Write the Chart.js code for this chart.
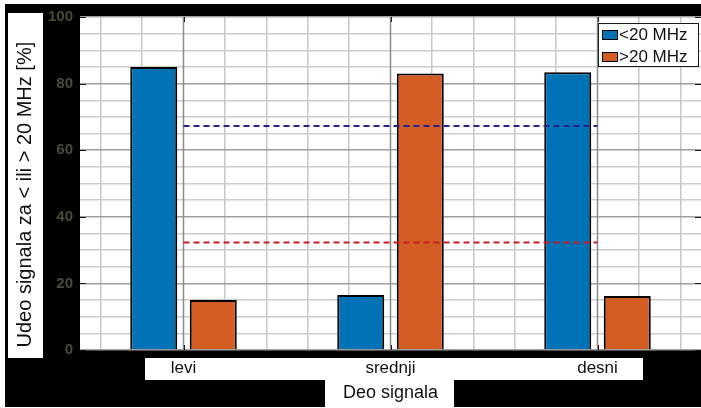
<!DOCTYPE html>
<html>
<head>
<meta charset="utf-8">
<script src="https://cdn.jsdelivr.net/npm/chart.js@4.4.0/dist/chart.umd.min.js"></script>
<style>
  html, body { margin: 0; padding: 0; background: #fff; overflow: hidden; }
  #wrap { width: 701px; height: 408px; }
</style>
</head>
<body>
<div id="wrap"><canvas id="chart" width="701" height="408"></canvas></div>
<script>
// data
const categories = ["levi", "srednji", "desni"];
const seriesNames = ["<20 MHz", ">20 MHz"];
const below20 = [85.0, 16.5, 83.4];
const above20 = [15.0, 83.0, 16.2];
const avgBelow20 = [67.3, 67.3, 67.3];
const avgAbove20 = [32.3, 32.3, 32.3];
const yTicks = [0, 20, 40, 60, 80, 100];

const FONT = "'Liberation Sans', Arial, sans-serif";
const BLUE = "#0072b5";
const ORANGE = "#d45d23";

// black backdrop with white label boxes, like the pasted figure
const backdrop = {
  id: "backdrop",
  beforeDraw(chart) {
    const ctx = chart.ctx;
    const a = chart.chartArea;
    ctx.save();
    ctx.fillStyle = "#fff";
    ctx.fillRect(0, 0, chart.width, chart.height);
    ctx.fillStyle = "#000";
    ctx.fillRect(5, 4, chart.width - 5, chart.height - 5);
    ctx.fillStyle = "#fff";
    ctx.fillRect(8, 13, 35, 345);
    ctx.fillRect(145, 358, 498, 22);
    ctx.fillRect(325, 380, 129, 28);
    ctx.fillRect(a.left, a.top, a.right - a.left, a.bottom - a.top);
    ctx.restore();
  },
  // darker grid lines at the category positions
  beforeDatasetsDraw(chart) {
    const ctx = chart.ctx;
    const a = chart.chartArea;
    const x = chart.scales.x;
    ctx.save();
    ctx.setLineDash([]);
    ctx.strokeStyle = "#8a8a8a";
    ctx.lineWidth = 1.5;
    ctx.beginPath();
    categories.forEach((c, i) => {
      const px = x.getPixelForValue(i);
      ctx.moveTo(px, a.top);
      ctx.lineTo(px, a.bottom);
    });
    ctx.stroke();
    ctx.restore();
  },
};

// inward tick marks and the boxed legend
const overlay = {
  id: "overlay",
  afterDraw(chart) {
    const ctx = chart.ctx;
    const a = chart.chartArea;
    const x = chart.scales.x;
    const y = chart.scales.y;
    ctx.save();
    ctx.setLineDash([]);
    ctx.strokeStyle = "#1a1a1a";
    ctx.lineWidth = 1;
    ctx.beginPath();
    categories.forEach((c, i) => {
      const px = Math.round(x.getPixelForValue(i)) + 0.5;
      ctx.moveTo(px, a.bottom);
      ctx.lineTo(px, a.bottom - 5);
      ctx.moveTo(px, a.top);
      ctx.lineTo(px, a.top + 5);
    });
    yTicks.forEach((v) => {
      const py = Math.round(y.getPixelForValue(v)) + 0.5;
      ctx.moveTo(a.left, py);
      ctx.lineTo(a.left + 6, py);
      ctx.moveTo(a.right, py);
      ctx.lineTo(a.right - 6, py);
    });
    ctx.stroke();

    // legend
    const bx = a.right - 103, by = a.top + 6, bw = 100, bh = 43;
    ctx.fillStyle = "#fff";
    ctx.fillRect(bx, by, bw, bh);
    ctx.strokeStyle = "#1a1a1a";
    ctx.strokeRect(bx + 0.5, by + 0.5, bw, bh);
    ctx.font = "17px " + FONT;
    ctx.textBaseline = "middle";
    chart.data.datasets.slice(0, 2).forEach((ds, i) => {
      const cy = by + 11 + i * 22;
      ctx.fillStyle = ds.backgroundColor;
      ctx.fillRect(bx + 4, cy - 4, 15, 9);
      ctx.strokeStyle = "#000";
      ctx.strokeRect(bx + 4.5, cy - 3.5, 15, 9);
      ctx.fillStyle = "#111";
      ctx.fillText(ds.label, bx + 21, cy + 1);
    });
    ctx.restore();
  },
};

const ctx = document.getElementById("chart").getContext("2d");
new Chart(ctx, {
  data: {
    labels: categories,
    datasets: [
      {
        type: "bar",
        label: seriesNames[0],
        data: below20,
        backgroundColor: BLUE,
        borderColor: "#000",
        borderWidth: 2,
        categoryPercentage: 0.575,
        barPercentage: 0.79,
        order: 2,
      },
      {
        type: "bar",
        label: seriesNames[1],
        data: above20,
        backgroundColor: ORANGE,
        borderColor: "#000",
        borderWidth: 2,
        categoryPercentage: 0.575,
        barPercentage: 0.79,
        order: 2,
      },
      {
        type: "line",
        label: "avg <20",
        data: avgBelow20,
        borderColor: "#23238f",
        borderWidth: 2,
        borderDash: [6, 4],
        pointRadius: 0,
        fill: false,
        order: 0,
      },
      {
        type: "line",
        label: "avg >20",
        data: avgAbove20,
        borderColor: "#c41d26",
        borderWidth: 2,
        borderDash: [6, 4],
        pointRadius: 0,
        fill: false,
        order: 0,
      },
    ],
  },
  options: {
    responsive: false,
    animation: false,
    devicePixelRatio: 1,
    layout: { padding: { left: 5, top: 17, right: 0, bottom: 0 } },
    plugins: { legend: { display: false }, tooltip: { enabled: false } },
    scales: {
      x: {
        type: "category",
        offset: true,
        border: { display: false },
        grid: { display: true, drawOnChartArea: false, drawTicks: false },
        ticks: { font: { family: FONT, size: 17 }, color: "#111", padding: 8, maxRotation: 0 },
        title: {
          display: true,
          text: "Deo signala",
          font: { family: FONT, size: 18 },
          color: "#111",
          padding: { top: 0, bottom: 4 },
        },
        afterFit: (s) => { s.height = 58; },
      },
      xMinor: {
        type: "linear",
        position: "bottom",
        min: -0.5,
        max: 2.5,
        border: { display: false, dash: [] },
        grid: { color: "#c6c6c6", lineWidth: 1.5, drawTicks: false },
        ticks: { display: false },
        afterBuildTicks: (s) => {
          const t = [];
          for (let i = -2; i <= 12; i++) if (i % 5 !== 0) t.push({ value: i / 5 });
          s.ticks = t;
        },
        afterFit: (s) => { s.height = 0; },
      },
      y: {
        min: 0,
        max: 100,
        border: { display: false, dash: [] },
        grid: {
          drawTicks: false,
          lineWidth: 1.5,
          color: (c) => (yTicks.includes(c.tick.value) ? "#a0a0a0" : "#cccccc"),
        },
        ticks: {
          stepSize: 5,
          autoSkip: false,
          padding: 7,
          color: "#4a4a3c",
          font: { family: FONT, size: 15, weight: "bold" },
          callback: (v) => (yTicks.includes(v) ? v : ""),
        },
        title: {
          display: true,
          text: "Udeo signala za < ili > 20 MHz [%]    ",
          font: { family: FONT, size: 20 },
          color: "#111",
          padding: { top: 8, bottom: 0 },
        },
        afterFit: (s) => { s.width = 75; },
      },
    },
  },
  plugins: [backdrop, overlay],
});
</script>
</body>
</html>
